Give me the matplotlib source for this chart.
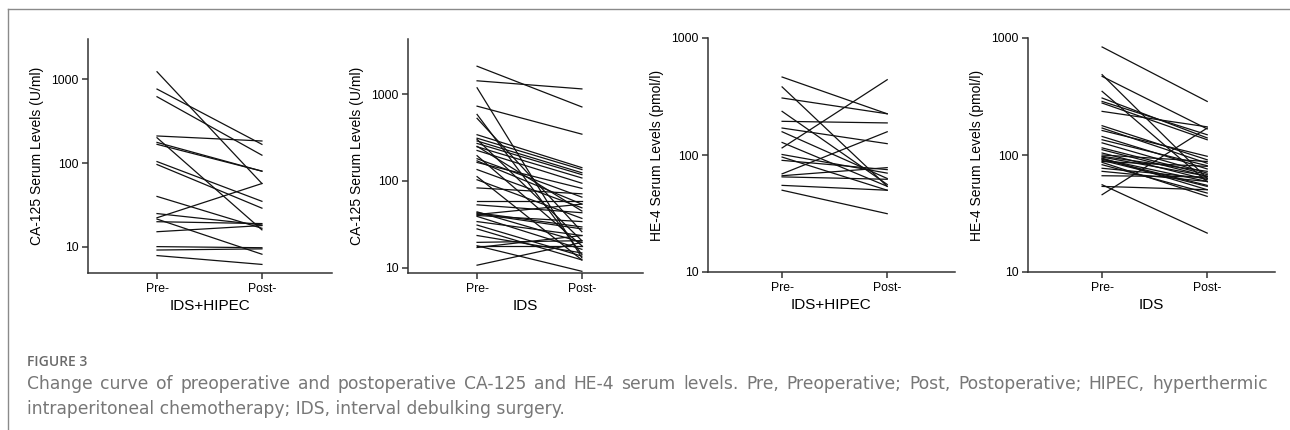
import matplotlib
matplotlib.use("Agg")
import matplotlib.pyplot as plt
from matplotlib.ticker import FixedLocator, NullLocator

plt.rcParams['font.family'] = ['Liberation Sans', 'DejaVu Sans']

# CA-125, IDS+HIPEC (U/ml)
ca_hipec_pre = [1222, 760, 616, 210, 200, 176, 167, 104, 96, 40, 25, 22.3, 21.5, 20, 15.2, 10.1, 9.2, 7.9]
ca_hipec_post = [57, 167, 124, 183, 16, 80, 80, 35, 29, 16.7, 18.3, 57, 8.2, 19, 18, 9.8, 9.5, 6.2]

# CA-125, IDS (U/ml)
ca_ids_pre = [2090, 1420, 1180, 725, 582, 525, 340, 310, 300, 288, 270, 250, 247, 224, 195, 180,
              170, 163, 135, 112, 103, 83, 59, 53, 44, 43, 42, 41, 40, 39, 34, 31, 28, 23.5,
              19.6, 18, 17.9, 17.1, 10.7]
ca_ids_post = [710, 1145, 13, 345, 14.2, 26, 142, 135, 20.5, 124, 118, 45, 108, 94, 17.9, 65,
               54, 82, 49, 12.3, 37, 71, 59, 43, 19.6, 29.5, 28, 54, 34, 16.3, 23.5, 13.6,
               12.3, 14.8, 20.5, 18, 9.1, 23.5, 19.6]

# HE-4, IDS+HIPEC (pmol/l)
he_hipec_pre = [464, 382, 307, 236, 194, 170, 158, 128, 115, 101, 96, 90, 69, 66.5, 65, 55, 50]
he_hipec_post = [225, 54, 225, 56, 188, 125, 63, 54, 440, 70, 50, 75, 158, 78, 62, 50, 31.5]

# HE-4, IDS (pmol/l)
he_ids_pre = [838, 486, 470, 350, 307, 287, 278, 236, 178, 170, 162, 144, 135, 127, 115, 111,
              104, 100, 97.5, 96, 94, 92.5, 92, 90, 88, 86.5, 82.6, 77, 72.5, 66.5, 55.7, 53.9, 45.8]
he_ids_post = [287, 63, 167, 59, 140, 149, 135, 174, 91, 85, 97.5, 76, 81, 70, 68, 65.6,
               61.5, 88, 72.5, 66, 50.5, 59.4, 55, 53.9, 80, 44.3, 47.3, 63.3, 59.4, 65, 21.5, 50.5, 170]

groups = ['IDS+HIPEC', 'IDS', 'IDS+HIPEC', 'IDS']
ylabels = ['CA-125 Serum Levels (U/ml)', 'CA-125 Serum Levels (U/ml)',
           'HE-4 Serum Levels (pmol/l)', 'HE-4 Serum Levels (pmol/l)']
pres = [ca_hipec_pre, ca_ids_pre, he_hipec_pre, he_ids_pre]
posts = [ca_hipec_post, ca_ids_post, he_hipec_post, he_ids_post]
xticklabels = ['Pre-', 'Post-']

W, H = 1290, 430
fig = plt.figure(figsize=(W / 100, H / 100), dpi=100)

# axes boxes in pixels: left, right, top, bottom
boxes = [(88, 332, 39, 273), (408, 643, 39, 273), (708, 955, 38, 272), (1028, 1275, 38, 272)]
xlims = [(-0.658, 1.668), (-0.659, 1.583), (-0.705, 1.645), (-0.705, 1.645)]
ylims = [(4.9, 3000), (8.7, 4300), (10, 1000), (10, 1000)]

for i in range(4):
    l, r, t, b = boxes[i]
    ax = fig.add_axes([l / W, 1 - b / H, (r - l) / W, (b - t) / H])
    for a, p in zip(pres[i], posts[i]):
        ax.plot([0, 1], [a, p], color='#111111', lw=0.9)
    ax.set_yscale('log')
    ax.set_xlim(*xlims[i])
    ax.set_ylim(*ylims[i])
    ax.yaxis.set_major_locator(FixedLocator([10, 100, 1000]))
    ax.yaxis.set_minor_locator(NullLocator())
    ax.set_yticklabels(['10', '100', '1000'])
    ax.set_xticks([0, 1])
    ax.set_xticklabels(xticklabels)
    for s in ['top', 'right']:
        ax.spines[s].set_visible(False)
    for s in ['left', 'bottom']:
        ax.spines[s].set_color('#333333')
        ax.spines[s].set_linewidth(1.1)
    ax.tick_params(direction='out', length=4, width=1.1, color='#333333', labelsize=8.8, pad=3)
    ax.set_ylabel(ylabels[i], fontsize=10, labelpad=5)
    ax.set_xlabel(groups[i], fontsize=11, labelpad=3)
    ax.patch.set_alpha(0)

# frame lines of the page
fig.add_artist(plt.Line2D([8 / W, 8 / W], [0, 1 - 9 / H], color='#8a8a8a', lw=1.0))
fig.add_artist(plt.Line2D([8 / W, 1], [1 - 9 / H, 1 - 9 / H], color='#8a8a8a', lw=1.0))

cap = ['Change curve of preoperative and postoperative CA-125 and HE-4 serum levels. Pre, Preoperative; Post, Postoperative; HIPEC, hyperthermic',
       'intraperitoneal chemotherapy; IDS, interval debulking surgery.']
capfont = ['DejaVu Sans']
fig.text(27 / W, 1 - 362 / H, 'FIGURE 3', fontsize=10, color='#6a6a6a', va='center',
         family=['Open Sans', 'DejaVu Sans'], weight='semibold')

# first caption line is justified between x=27 and x=1268
renderer = fig.canvas.get_renderer()
words = cap[0].split()
wtexts = [fig.text(0, 1 - 384 / H, w, fontsize=12.3, color='#777777', va='center', family=capfont)
          for w in words]
widths = [t.get_window_extent(renderer).width for t in wtexts]
gap = (1268 - 27 - sum(widths)) / (len(words) - 1)
x = 27
for t, w in zip(wtexts, widths):
    t.set_x(x / W)
    x += w + gap
fig.text(27 / W, 1 - 409 / H, cap[1], fontsize=12.3, color='#777777', va='center', family=capfont)

fig.savefig('out.png', dpi=100)
